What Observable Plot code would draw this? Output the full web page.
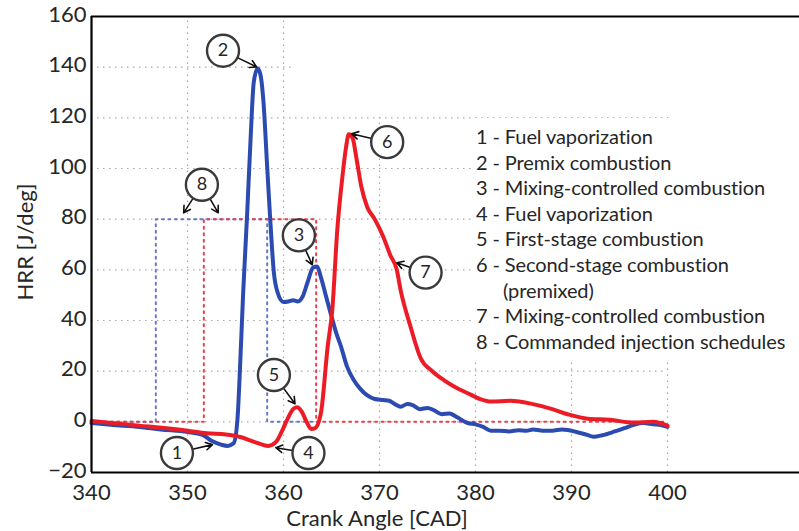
<!DOCTYPE html>
<html><head><meta charset="utf-8">
<script src="https://cdn.jsdelivr.net/npm/d3@7"></script>
<script src="https://cdn.jsdelivr.net/npm/@observablehq/plot@0.6"></script>
<style>
body{margin:0;background:#fff;}
#wrap{position:relative;width:799px;height:531px;font-family:Lato,"Open Sans",sans-serif;color:#262626;overflow:hidden;}
#wrap svg{position:absolute;left:0;top:0;}
.mask{position:absolute;background:#fff;}
#legend{position:absolute;left:473px;top:118px;width:326px;height:244px;background:#fff;font-size:20px;line-height:25.6px;padding-top:6px;box-sizing:border-box;letter-spacing:-0.1px;}
#legend div{white-space:nowrap;padding-left:3px;}
#legend div.indent{padding-left:30px;}
.axlab{position:absolute;font-size:22px;white-space:nowrap;transform:translate(-50%,-50%);}
</style></head><body><div id="wrap"></div>
<script>
// axis ticks
const xTicks = [340, 350, 360, 370, 380, 390, 400];
const yTicks = [-20, 0, 20, 40, 60, 80, 100, 120, 140, 160];

// blue HRR curve
const blueCAD = [340, 342, 345, 347.2, 350, 351.5, 352.5, 353.5, 354.2, 354.8, 355.2, 355.5, 355.8, 356.2, 356.6, 356.9, 357.3, 357.6, 357.9, 358.3, 358.6, 359.0, 359.4, 360.0, 360.5, 361.0, 361.5, 362.0, 362.5, 363.1, 363.5, 363.9, 364.4, 364.9, 365.5, 366.0, 366.6, 367.3, 368.0, 368.7, 369.5, 370.4, 371.0, 371.6, 372.2, 372.9, 373.5, 374.2, 375.0, 375.7, 376.5, 377.3, 378.0, 379.2, 380.0, 380.8, 381.6, 382.5, 383.5, 384.5, 385.3, 386.0, 387.0, 388.0, 389.0, 389.6, 390.5, 391.5, 392.3, 393.2, 394.5, 395.5, 396.5, 397.5, 398.5, 399.3, 400];
const blueHRR = [-0.5, -1.2, -2, -3, -4, -5, -7.5, -9, -9.5, -8.5, 0.8, 24, 51, 81, 114, 134, 139.5, 137, 127, 100.6, 81, 58.8, 50.9, 47.3, 47.5, 48, 47.5, 49.5, 55, 61, 61.3, 57, 50, 43, 35, 29.6, 22, 16.6, 13, 10.5, 9, 8.6, 8.3, 7, 6, 7, 6.5, 5, 5.5, 4.5, 3, 3.3, 2, -0.5, -1, -2, -3.5, -3.5, -3.8, -3.3, -3.5, -3, -3.5, -3.5, -3, -3.2, -4, -5, -5.9, -5.3, -3.8, -2.5, -1.2, -0.5, -1, -1.3, -2];

// red HRR curve
const redCAD = [340, 345, 350, 352, 354, 355.5, 357, 358.4, 359.2, 359.8, 360.4, 361.0, 361.4, 361.9, 362.4, 362.9, 363.3, 363.9, 364.6, 365.1, 365.6, 366.1, 366.5, 366.8, 367.2, 367.6, 368.1, 368.7, 369.5, 370.4, 371.1, 371.8, 372.2, 373.2, 374.3, 375.5, 376.7, 378.0, 379.2, 380.5, 381.6, 383.6, 386.0, 388.0, 389.6, 391.7, 394.0, 396.5, 398.5, 400];
const redHRR = [0.3, -1.5, -3.5, -4.5, -5, -6, -8, -9.5, -8, -4, 1, 5, 5.8, 4, 0, -2.8, -2.5, 3.5, 29.6, 45, 75.7, 95.5, 108, 113.5, 112, 104, 93, 85, 80, 73, 66, 60, 52, 38, 25, 20, 16.5, 13.5, 11.3, 9, 8, 8.3, 7, 5, 3, 1.2, 0.8, -0.3, 0, -1.5];

// commanded injection schedules (item 8)
const schedBlueCAD = [340, 346.7, 346.7, 358.3, 358.3, 363.4];
const schedBlueLvl = [0, 0, 80, 80, 0, 0];
const schedRedCAD = [340, 351.7, 351.7, 363.4, 363.4, 400];
const schedRedLvl = [0, 0, 80, 80, 0, 0];

// numbered callouts
const markNum = ["1", "2", "3", "4", "5", "6", "7", "8"];
const markCAD = [348.9, 353.7, 361.6, 362.6, 359.0, 370.8, 374.8, 351.5];
const markHRR = [-12.3, 146.5, 73.6, -12.3, 18.5, 110.4, 58.9, 93.6];
const arrowFrom = [0, 1, 2, 3, 4, 5, 6, 7, 7];
const arrowToCAD = [352.6, 357.2, 363.0, 359.2, 361.2, 367.1, 371.8, 349.6, 353.2];
const arrowToHRR = [-9.0, 140.1, 62.0, -10.2, 7.1, 113.7, 62.8, 82.5, 82.5];

const legendItems = [
  "1 - Fuel vaporization",
  "2 - Premix combustion",
  "3 - Mixing-controlled combustion",
  "4 - Fuel vaporization",
  "5 - First-stage combustion",
  "6 - Second-stage combustion",
  "(premixed)",
  "7 - Mixing-controlled combustion",
  "8 - Commanded injection schedules"
];

const blue = blueCAD.map((x, i) => ({x, y: blueHRR[i]}));
const red = redCAD.map((x, i) => ({x, y: redHRR[i]}));
const sBlue = schedBlueCAD.map((x, i) => ({x, y: schedBlueLvl[i]}));
const sRed = schedRedCAD.map((x, i) => ({x, y: schedRedLvl[i]}));
const marks = markNum.map((n, i) => ({n, x: markCAD[i], y: markHRR[i]}));
const arrows = arrowFrom.map((k, i) => ({x1: markCAD[k], y1: markHRR[k], x2: arrowToCAD[i], y2: arrowToHRR[i]}));

const gridStyle = {stroke: "#a8a8a8", strokeWidth: 1.2, strokeDasharray: "1.5,4.5"};

const chart = Plot.plot({
  width: 799, height: 531,
  marginLeft: 91, marginRight: 0, marginTop: 16, marginBottom: 59,
  x: {domain: [340, 413.75], label: null},
  y: {domain: [-20, 160], label: null},
  style: {fontFamily: "Lato, sans-serif", background: "#fff", color: "#262626"},
  marks: [
    Plot.ruleX(xTicks.slice(1), {x: d => d, y1: () => -20, y2: () => 160, ...gridStyle}),
    Plot.ruleY(yTicks.slice(1, -1), {y: d => d, x1: () => 340, x2: () => 400, ...gridStyle}),
    Plot.line(sBlue, {x: "x", y: "y", stroke: "#6577cc", strokeWidth: 2, strokeDasharray: "2,4.5"}),
    Plot.line(sRed, {x: "x", y: "y", stroke: "#e8404d", strokeWidth: 2, strokeDasharray: "2,4.5"}),
    Plot.line(blue, {x: "x", y: "y", stroke: "#2c4bb0", strokeWidth: 4, curve: "monotone-x"}),
    Plot.line(red, {x: "x", y: "y", stroke: "#ec1c26", strokeWidth: 4, curve: "monotone-x"}),
    Plot.ruleX([340], {stroke: "#000", strokeWidth: 2.2}),
    Plot.ruleY([-20, 160], {stroke: "#000", strokeWidth: 2.2}),
    Plot.axisX(xTicks, {tickSize: 0, tickPadding: 12, fontSize: 22, label: null}),
    Plot.axisY(yTicks, {tickSize: 0, tickPadding: 5, fontSize: 22, label: null, dy: -2}),
    Plot.arrow(arrows, {x1: "x1", y1: "y1", x2: "x2", y2: "y2", insetStart: 16, headLength: 7, stroke: "#111", strokeWidth: 1.6}),
    Plot.dot(marks, {x: "x", y: "y", r: 16, fill: "#fff", stroke: "#3a3a3a", strokeWidth: 2.4}),
    Plot.text(marks, {x: "x", y: "y", text: "n", fontSize: 18, fill: "#262626"})
  ]
});

const wrap = document.getElementById("wrap");
wrap.appendChild(chart);

// white-out panel from the original figure
const maskA = document.createElement("div");
maskA.className = "mask";
Object.assign(maskA.style, {left: "291px", top: "18px", width: "508px", height: "99px"});
wrap.appendChild(maskA);

const legend = document.createElement("div");
legend.id = "legend";
legendItems.forEach(t => {
  const d = document.createElement("div");
  d.textContent = t;
  if (t.startsWith("(")) d.className = "indent";
  legend.appendChild(d);
});
wrap.appendChild(legend);

const xl = document.createElement("div");
xl.className = "axlab";
xl.textContent = "Crank Angle [CAD]";
Object.assign(xl.style, {left: "377px", top: "517px"});
wrap.appendChild(xl);

const yl = document.createElement("div");
yl.className = "axlab";
yl.textContent = "HRR [J/deg]";
Object.assign(yl.style, {left: "24px", top: "242px", transform: "translate(-50%,-50%) rotate(-90deg)"});
wrap.appendChild(yl);
</script>
</body></html>
